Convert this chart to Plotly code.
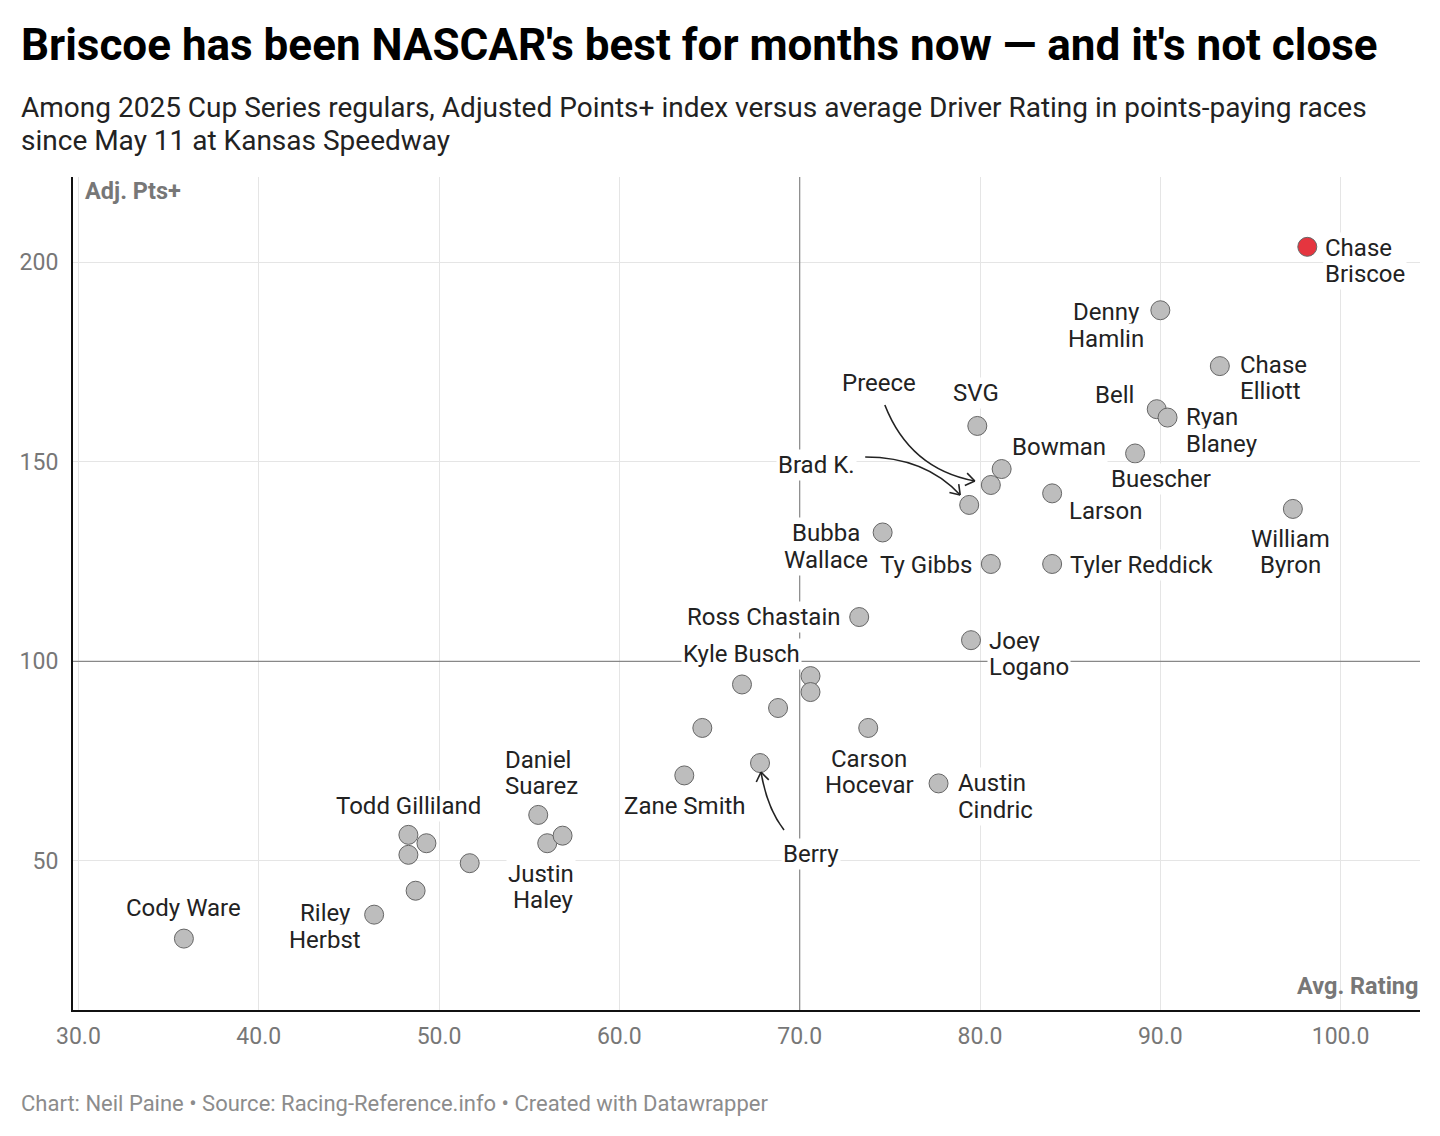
import math
import plotly.graph_objects as go

# ---------------- data ----------------
names = ["Chase Briscoe", "Denny Hamlin", "Chase Elliott", "Bell", "Ryan Blaney", "Buescher",
         "William Byron", "Tyler Reddick", "Larson", "Bowman", "SVG", "Preece", "Brad K.",
         "Bubba Wallace", "Ty Gibbs", "Ross Chastain", "Joey Logano", "Kyle Busch",
         "unl1", "unl2", "unl3", "unl4", "Carson Hocevar", "Austin Cindric", "Zane Smith",
         "Berry", "Daniel Suarez", "Justin Haley", "unl5", "Todd Gilliland", "unl6", "unl7",
         "unl8", "unl9", "Riley Herbst", "Cody Ware"]
avg_rating = [98.15, 90.0, 93.3, 89.8, 90.4, 88.6,
              97.35, 84.0, 84.0, 81.2, 79.85, 80.6, 79.4,
              74.6, 80.6, 73.3, 79.5, 66.8,
              70.6, 70.6, 68.8, 64.6, 73.8, 77.7, 63.6,
              67.8, 55.5, 56.0, 56.85, 48.3, 49.3, 48.3,
              51.7, 48.7, 46.4, 35.85]
adj_pts = [203.9, 188.0, 174.0, 163.2, 161.1, 152.1,
           138.2, 124.4, 142.1, 148.2, 159.0, 144.2, 139.2,
           132.3, 124.4, 111.1, 105.3, 94.2,
           96.3, 92.3, 88.3, 83.3, 83.3, 69.4, 71.4,
           74.5, 61.5, 54.4, 56.3, 56.5, 54.4, 51.5,
           49.4, 42.5, 36.5, 30.5]
labels = {
    "Chase Briscoe": "Chase<br>Briscoe", "Denny Hamlin": "Denny<br>Hamlin",
    "Chase Elliott": "Chase<br>Elliott", "Bell": "Bell", "Ryan Blaney": "Ryan<br>Blaney",
    "Buescher": "Buescher", "William Byron": "William<br>Byron", "Tyler Reddick": "Tyler Reddick",
    "Larson": "Larson", "Bowman": "Bowman", "SVG": "SVG", "Preece": "Preece", "Brad K.": "Brad K.",
    "Bubba Wallace": "Bubba<br>Wallace", "Ty Gibbs": "Ty Gibbs", "Ross Chastain": "Ross Chastain",
    "Joey Logano": "Joey<br>Logano", "Kyle Busch": "Kyle Busch", "Carson Hocevar": "Carson<br>Hocevar",
    "Austin Cindric": "Austin<br>Cindric", "Zane Smith": "Zane Smith", "Berry": "Berry",
    "Daniel Suarez": "Daniel<br>Suarez", "Justin Haley": "Justin<br>Haley",
    "Todd Gilliland": "Todd Gilliland", "Riley Herbst": "Riley<br>Herbst", "Cody Ware": "Cody Ware",
}
highlight = "Chase Briscoe"
x_ticks = [30, 40, 50, 60, 70, 80, 90, 100]
y_ticks = [50, 100, 150, 200]
x_mid = 70
y_mid = 100

title = "Briscoe has been NASCAR's best for months now — and it's not close"
subtitle_lines = ["Among 2025 Cup Series regulars, Adjusted Points+ index versus average Driver Rating in points-paying races",
                  "since May 11 at Kansas Speedway"]
footer = "Chart: Neil Paine • Source: Racing-Reference.info • Created with Datawrapper"

# ---------------- layout geometry ----------------
W, H = 1440, 1136
ML, MR, MT, MB = 73, 20, 177, 126
PW, PH = W - ML - MR, H - MT - MB
XR = [29.7, 104.4]
YR = [12.6, 221.4]
kx = PW / (XR[1] - XR[0])
ky = PH / (YR[1] - YR[0])

def dxd(px):
    return px / kx

def dyd(px):  # pixel offset downwards -> data offset
    return -px / ky

FONT = "Roboto"
LBL = 24
LS = 26.5  # label line spacing (px)

# label placement: (anchor/align, dx_px, dy_px)  dy positive = down, dy = block centre
place = {
    "Chase Briscoe": ("left", 16, 14),
    "Denny Hamlin": ("center", -54, 15),
    "Chase Elliott": ("left", 18, 12),
    "Bell": ("right", -21, -14),
    "Ryan Blaney": ("left", 16, 13),
    "Buescher": ("center", 26, 26),
    "William Byron": ("center", -2, 43),
    "Tyler Reddick": ("left", 16, 1),
    "Larson": ("left", 15, 18),
    "Bowman": ("left", 8, -22),
    "SVG": ("center", -1, -33),
    "Preece": ("center", -112, -102),
    "Brad K.": ("right", -112, -40),
    "Bubba Wallace": ("center", -57, 14),
    "Ty Gibbs": ("right", -17, 1),
    "Ross Chastain": ("right", -17, 0),
    "Joey Logano": ("left", 16, 14),
    "Kyle Busch": ("center", 0, -30),
    "Carson Hocevar": ("center", 1, 44),
    "Austin Cindric": ("left", 17, 13),
    "Zane Smith": ("center", 1, 31),
    "Berry": ("center", 51, 91),
    "Daniel Suarez": ("left", -35, -42),
    "Justin Haley": ("right", 29, 44),
    "Todd Gilliland": ("center", 0, -29),
    "Riley Herbst": ("center", -49, 12),
    "Cody Ware": ("center", 0, -31),
}

# curved arrows: start, control, end (px offsets relative to target point)
arrows = {
    "Preece": ((-106, -80), (-81, -16), (-16, -4)),
    "Brad K.": ((-104, -48), (-44, -48), (-9, -10)),
    "Berry": ((24, 67), (7, 45), (1, 9)),
}

fig = go.Figure()

colors = ["#e5353f" if n == highlight else "#bdbdbd" for n in names]
fig.add_trace(go.Scatter(
    x=avg_rating, y=adj_pts, mode="markers",
    marker=dict(size=19, color=colors, line=dict(color="#666666", width=1)),
    hoverinfo="text", text=names, showlegend=False,
))

shapes = [
    dict(type="line", xref="x", yref="paper", x0=x_mid, x1=x_mid, y0=0, y1=1,
         line=dict(color="#888888", width=1.2), layer="above"),
    dict(type="line", xref="paper", yref="y", x0=0, x1=1, y0=y_mid, y1=y_mid,
         line=dict(color="#888888", width=1.2), layer="above"),
]

pos = {n: (xv, yv) for n, xv, yv in zip(names, avg_rating, adj_pts)}
for n, (p0, c, p2) in arrows.items():
    xv, yv = pos[n]
    def P(o, xv=xv, yv=yv):
        return xv + dxd(o[0]), yv + dyd(o[1])
    a, b, e = P(p0), P(c), P(p2)
    shapes.append(dict(type="path", xref="x", yref="y",
                       path=f"M {a[0]},{a[1]} Q {b[0]},{b[1]} {e[0]},{e[1]}",
                       line=dict(color="#222222", width=1.6)))
    tx, ty = p2[0] - c[0], p2[1] - c[1]
    L = math.hypot(tx, ty)
    tx, ty = tx / L, ty / L
    hl = 11
    for ang in (math.radians(35), -math.radians(35)):
        rx = -(tx * math.cos(ang) - ty * math.sin(ang))
        ry = -(tx * math.sin(ang) + ty * math.cos(ang))
        q = P((p2[0] + rx * hl, p2[1] + ry * hl))
        shapes.append(dict(type="line", xref="x", yref="y",
                           x0=e[0], y0=e[1], x1=q[0], y1=q[1],
                           line=dict(color="#222222", width=1.6)))

annotations = []
for n, (al, dx, dy) in place.items():
    xv, yv = pos[n]
    lines = labels[n].split("<br>")
    k = len(lines)
    for i, ln in enumerate(lines):
        off = dy + (i - (k - 1) / 2) * LS
        annotations.append(dict(
            x=xv, y=yv, xref="x", yref="y", text=ln, showarrow=False,
            xanchor=al, yanchor="middle", align=al, xshift=dx, yshift=-off,
            font=dict(family=FONT, size=LBL, color="#222222"),
            bgcolor="white", borderpad=1,
        ))

def px_x(px):
    return (px - ML) / PW

def px_y(py):
    return (H - MB - py) / PH

annotations += [
    dict(text=f"<b>{title}</b>",
         x=px_x(19), y=px_y(45), xref="paper", yref="paper", xanchor="left", yanchor="middle",
         showarrow=False, font=dict(family=FONT, size=44, color="#000000")),
    dict(text=subtitle_lines[0],
         x=px_x(19), y=px_y(107), xref="paper", yref="paper", xanchor="left", yanchor="middle",
         showarrow=False, font=dict(family=FONT, size=28, color="#222222")),
    dict(text=subtitle_lines[1],
         x=px_x(19), y=px_y(140), xref="paper", yref="paper", xanchor="left", yanchor="middle",
         showarrow=False, font=dict(family=FONT, size=28, color="#222222")),
    dict(text=footer,
         x=px_x(19), y=px_y(1103), xref="paper", yref="paper", xanchor="left", yanchor="middle",
         showarrow=False, font=dict(family=FONT, size=22, color="#8c8c8c")),
    dict(text="<b>Adj. Pts+</b>", x=px_x(83), y=px_y(191), xref="paper", yref="paper",
         xanchor="left", yanchor="middle", showarrow=False,
         font=dict(family=FONT, size=23.5, color="#777777")),
    dict(text="<b>Avg. Rating</b>", x=px_x(1420), y=px_y(986), xref="paper", yref="paper",
         xanchor="right", yanchor="middle", showarrow=False,
         font=dict(family=FONT, size=23.5, color="#777777")),
]

fig.update_layout(
    width=W, height=H, margin=dict(l=ML, r=MR, t=MT, b=MB),
    paper_bgcolor="white", plot_bgcolor="white",
    shapes=shapes, annotations=annotations,
    font=dict(family=FONT),
    xaxis=dict(range=XR, tickvals=x_ticks, ticktext=[f"{v:.1f}" for v in x_ticks],
               showgrid=True, gridcolor="#e5e5e5", gridwidth=1, zeroline=False,
               showline=True, linecolor="#111111", linewidth=2, ticks="",
               tickfont=dict(family=FONT, size=23, color="#777777"), ticklabelstandoff=4),
    yaxis=dict(range=YR, tickvals=y_ticks, ticktext=[str(v) for v in y_ticks],
               showgrid=True, gridcolor="#e5e5e5", gridwidth=1, zeroline=False,
               showline=True, linecolor="#111111", linewidth=2, ticks="",
               tickfont=dict(family=FONT, size=23, color="#777777"), ticklabelstandoff=8),
)

fig.write_html("out.html")
